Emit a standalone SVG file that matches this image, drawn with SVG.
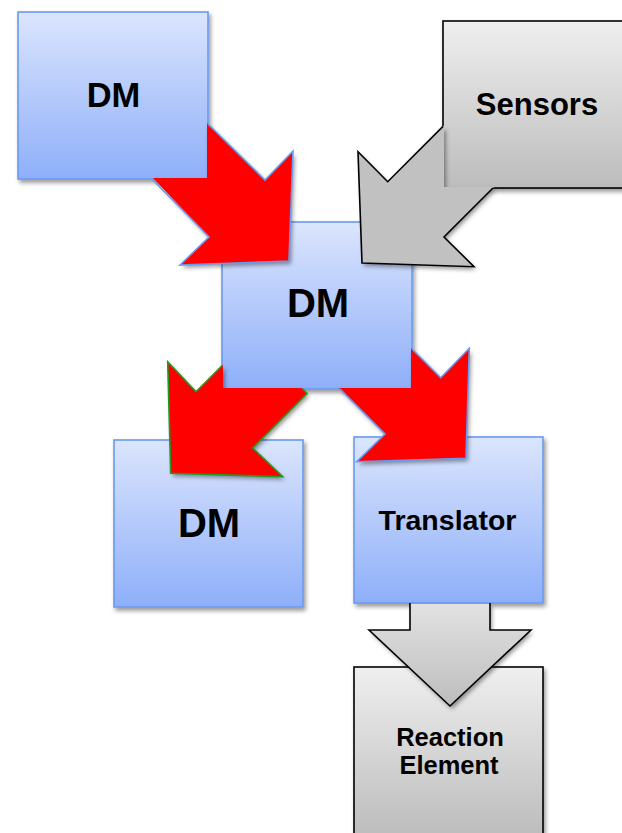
<svg xmlns="http://www.w3.org/2000/svg" width="622" height="833" viewBox="0 0 622 833">
  <defs>
    <linearGradient id="blueFill" x1="0" y1="0" x2="0" y2="1">
      <stop offset="0" stop-color="#dbe5fd"/>
      <stop offset="1" stop-color="#8eaff9"/>
    </linearGradient>
    <linearGradient id="greyFill" x1="0" y1="0" x2="0" y2="1">
      <stop offset="0" stop-color="#efefef"/>
      <stop offset="1" stop-color="#bcbcbc"/>
    </linearGradient>
    <linearGradient id="greyArrowFill" x1="0" y1="603" x2="0" y2="706" gradientUnits="userSpaceOnUse">
      <stop offset="0" stop-color="#e2e2e2"/>
      <stop offset="1" stop-color="#bdbdbd"/>
    </linearGradient>
    <filter id="shadow" x="-10%" y="-10%" width="130%" height="130%">
      <feDropShadow dx="2" dy="3" stdDeviation="2.2" flood-color="#000" flood-opacity="0.4"/>
    </filter>
  </defs>
  <style>
    .box-blue { fill: url(#blueFill); stroke: #6a9af0; stroke-width: 1.6; filter: url(#shadow); }
    .box-grey { fill: url(#greyFill); stroke: #000; stroke-width: 1.6; filter: url(#shadow); }
    .label { font-family: "Liberation Sans", Arial, Helvetica, sans-serif; font-weight: bold; fill: #000; text-anchor: middle; }
    .arrow-fill { stroke: none; filter: url(#shadow); }
    .arrow-edge { fill: none; stroke-width: 1.6; stroke-linejoin: miter; }
    .red { fill: #ff0000; }
    .grey { fill: #c1c1c1; }
    .edge-blue { stroke: #6a9af0; }
    .edge-green { stroke: #1f9a1f; }
    .edge-black { stroke: #000; }
  </style>

  <rect width="622" height="833" fill="#ffffff"/>

  <!-- nodes -->
  <g id="reaction-element">
    <rect class="box-grey" x="354" y="667" width="189" height="170"/>
    <text class="label" x="450" y="746" font-size="25.5">Reaction</text>
    <text class="label" x="449" y="774" font-size="25.5">Element</text>
  </g>
  <g id="dm-lower">
    <rect class="box-blue" x="114" y="440" width="189" height="167"/>
    <text class="label" x="209" y="537" font-size="40">DM</text>
  </g>
  <g id="translator">
    <rect class="box-blue" x="354" y="437" width="189" height="166"/>
    <text class="label" x="447.5" y="530" font-size="28.5">Translator</text>
  </g>
  <g id="dm-center">
    <rect class="box-blue" x="222" y="222" width="190" height="167"/>
    <text class="label" x="318" y="317" font-size="40">DM</text>
  </g>
  <g id="dm-top">
    <rect class="box-blue" x="18" y="12" width="190" height="167"/>
    <text class="label" x="113.5" y="107" font-size="34.5">DM</text>
  </g>
  <g id="sensors">
    <rect class="box-grey" x="443" y="21" width="190" height="167"/>
    <text class="label" x="537" y="115" font-size="31">Sensors</text>
  </g>

  <!-- connectors: block arrows leaving the edge of their source box -->
  <g id="connectors">
    <g id="arrow-dm-top-to-center">
      <polygon class="arrow-fill red" points="207,123 265,180 293,151 289,261 180,265 209,237 153,178 207,178"/>
      <polyline class="arrow-edge edge-blue" points="208,124 265,180 293,151 289,261 180,265 209,237 152,179"/>
    </g>
    <g id="arrow-sensors-to-center">
      <polygon class="arrow-fill grey" points="444,125.4 387.7,181.7 358,151.7 362,263 474,266.7 444,237 494,187 444,187"/>
      <polyline class="arrow-edge edge-black" points="443,126.4 387.7,181.7 358,151.7 362,263 474,266.7 444,237 493,188"/>
    </g>
    <g id="arrow-center-to-dm-lower">
      <polygon class="arrow-fill red" points="223,364.7 196,391.7 167.7,361.7 170.7,473.3 282.7,476.7 252.7,448 307,393.5 301.7,388 223,388"/>
      <polyline class="arrow-edge edge-green" points="222,365.7 196,391.7 167.7,361.7 170.7,473.3 282.7,476.7 252.7,448 307,393.5 302.7,389"/>
    </g>
    <g id="arrow-center-to-translator">
      <polygon class="arrow-fill red" points="411,348 440.7,377.7 469.3,348.3 466,458.3 356.7,461.7 385,434 339,388 411,388"/>
      <polyline class="arrow-edge edge-blue" points="412,349 440.7,377.7 469.3,348.3 466,458.3 356.7,461.7 385,434 340,389"/>
    </g>
    <g id="arrow-translator-to-reaction">
      <polygon class="arrow-fill" fill="url(#greyArrowFill)" points="410,604 410,630 369,630 450,706 531,630 490,630 490,604"/>
      <polyline class="arrow-edge edge-black" points="410,603 410,630 369,630 450,706 531,630 490,630 490,603"/>
    </g>
  </g>
</svg>
